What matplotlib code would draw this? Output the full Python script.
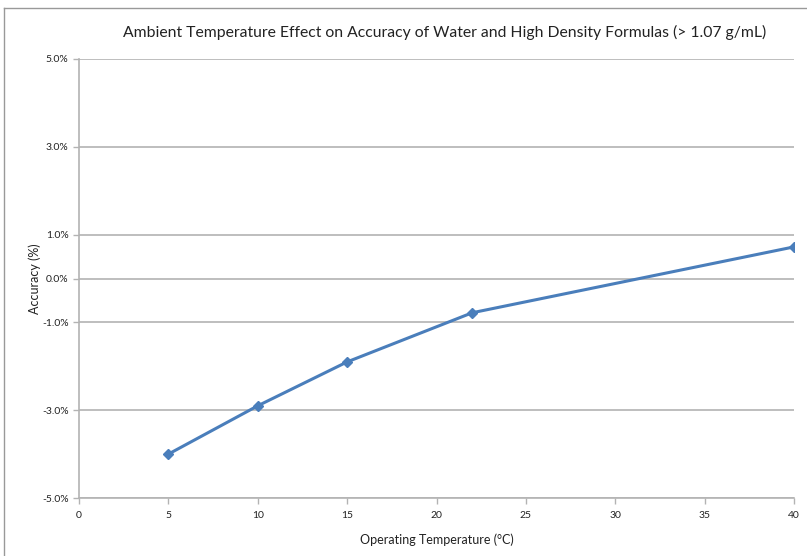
import matplotlib
matplotlib.use("Agg")
from matplotlib import pyplot as plt
from matplotlib.lines import Line2D

# data
temps = [5, 10, 15, 22, 40]
accuracy = [-4.0, -2.9, -1.9, -0.78, 0.72]
y_ticks = [-5, -3, -1, 0, 1, 3, 5]
x_ticks = [0, 5, 10, 15, 20, 25, 30, 35, 40]

plt.rcParams['font.family'] = ['Lato', 'DejaVu Sans']

fig = plt.figure(figsize=(8.07, 5.56), dpi=100)
W, H = 807, 556
ax = fig.add_axes([79 / W, 1 - 498 / H, (794 - 79) / W, (498 - 59) / H])

ax.plot(temps, accuracy, color="#4a7ebb", lw=2.2, marker="D", ms=5,
        markerfacecolor="#4a7ebb", markeredgecolor="#4a7ebb", zorder=3)

ax.set_xlim(0, 40)
ax.set_ylim(-5, 5)
ax.set_xticks(x_ticks)
ax.set_yticks(y_ticks)
ax.set_yticklabels(["%.1f%%" % v for v in y_ticks])
ax.grid(axis="y", color="#b3b3b3", lw=1.2)
ax.set_axisbelow(True)

for s in ["top", "right"]:
    ax.spines[s].set_visible(False)
for s in ["left", "bottom"]:
    ax.spines[s].set_color("#b3b3b3")
    ax.spines[s].set_linewidth(1.2)
ax.tick_params(colors="#b3b3b3", labelcolor="#222222", labelsize=7.5,
               length=4, width=1)
ax.tick_params(axis="x", pad=5)

ax.set_xlabel("Operating Temperature (°C)", fontsize=9, color="#222222", labelpad=10)
ax.set_ylabel("Accuracy (%)", fontsize=9, color="#222222", labelpad=1)
fig.text(445 / W, 1 - 32 / H,
         "Ambient Temperature Effect on Accuracy of Water and High Density Formulas (> 1.07 g/mL)",
         ha="center", va="center", fontsize=11.3, color="#222222")

# thin frame at the top and left edge of the picture
fig.add_artist(Line2D([4 / W, 4 / W], [0, 1 - 8 / H], color="#999999", lw=1))
fig.add_artist(Line2D([4 / W, 1], [1 - 8 / H, 1 - 8 / H], color="#999999", lw=1))

fig.savefig("out.png", dpi=100)
